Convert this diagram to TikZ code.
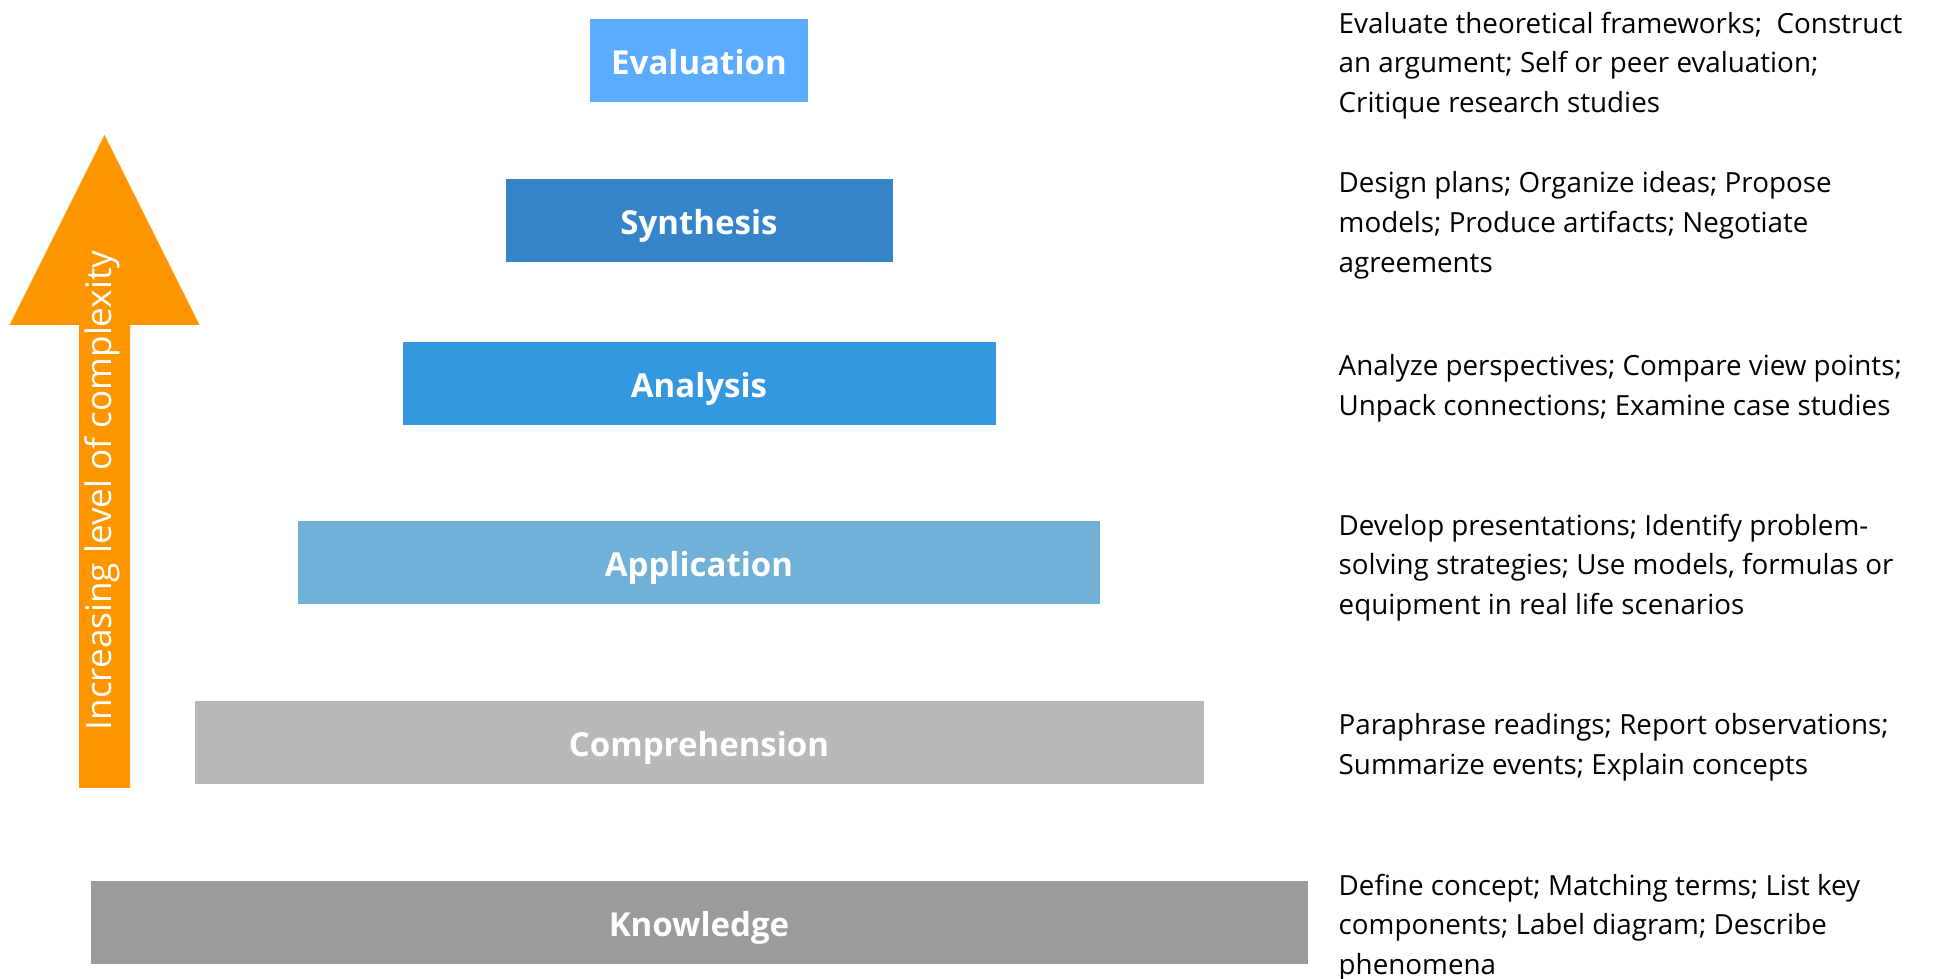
\documentclass[tikz,border=0pt]{standalone}
\usepackage{fontspec}
\setmainfont{Open Sans}
\usetikzlibrary{positioning}

\definecolor{evalblue}{RGB}{91,172,255}
\definecolor{synblue}{RGB}{53,132,200}
\definecolor{anablue}{RGB}{51,152,223}
\definecolor{appblue}{RGB}{113,176,215}
\definecolor{compgray}{RGB}{184,184,184}
\definecolor{knowgray}{RGB}{155,155,155}
\definecolor{climborange}{RGB}{255,150,0}

\begin{document}
\begin{tikzpicture}[
    level/.style={rectangle, minimum height=0.83cm, inner sep=0pt, outer sep=0pt, text height=2.8mm, text depth=0mm, text=white, font=\fontsize{9.4}{10}\selectfont\bfseries},
    desc/.style={anchor=west, align=left, inner sep=0pt, yshift=-0.45mm, font=\fontsize{7.9}{11.3}\selectfont},
    climb/.style={rotate=90, anchor=base, inner sep=0pt, text=white, font=\fontsize{10}{12}\selectfont}
]
\useasboundingbox (0,0) rectangle (19.34,9.79);

% Pyramid levels, top to bottom
\node[level, fill=evalblue, minimum width=2.18cm] (eval) at (6.99, 9.18) {Evaluation};
\node[level, fill=synblue, minimum width=3.87cm, below=0.77cm of eval] (syn) {Synthesis};
\node[level, fill=anablue, minimum width=5.93cm, below=0.80cm of syn] (ana) {Analysis};
\node[level, fill=appblue, minimum width=8.02cm, below=0.96cm of ana] (app) {Application};
\node[level, fill=compgray, minimum width=10.09cm, below=0.97cm of app] (comp) {Comprehension};
\node[level, fill=knowgray, minimum width=12.17cm, below=0.97cm of comp] (know) {Knowledge};

% Activities column on the right
\coordinate (col) at (13.38, 0);
\node[desc] (evaltxt) at (eval -| col) {Evaluate theoretical frameworks;\ \ Construct\\ an argument; Self or peer evaluation;\\ Critique research studies};
\node[desc] (syntxt) at (syn -| col) {Design plans; Organize ideas; Propose\\ models; Produce artifacts; Negotiate\\ agreements};
\node[desc] (anatxt) at (ana -| col) {Analyze perspectives; Compare view points;\\ Unpack connections; Examine case studies};
\node[desc] (apptxt) at (app -| col) {Develop presentations; Identify problem-\\ solving strategies; Use models, formulas or\\ equipment in real life scenarios};
\node[desc] (comptxt) at (comp -| col) {Paraphrase readings; Report observations;\\ Summarize events; Explain concepts};
\node[desc] (knowtxt) at (know -| col) {Define concept; Matching terms; List key\\ components; Label diagram; Describe\\ phenomena};

% Complexity arrow
\fill[climborange] (0.79,1.91) -- (0.79,6.54) -- (0.096,6.54) -- (1.045,8.44)
    -- (1.996,6.54) -- (1.30,6.54) -- (1.30,1.91) -- cycle;
\node[climb] (climbtxt) at (1.12, 4.885) {Increasing level of complexity};

\end{tikzpicture}
\end{document}
